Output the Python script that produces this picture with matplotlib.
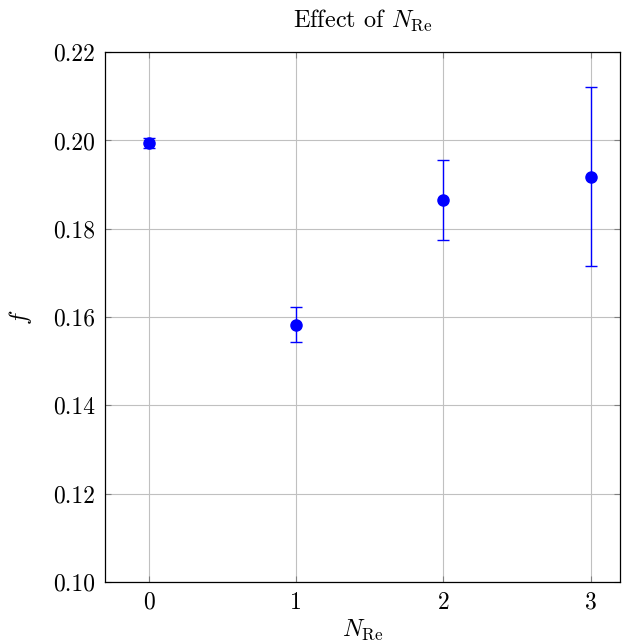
import matplotlib
matplotlib.use("Agg")
import matplotlib.pyplot as plt

plt.rcParams["font.family"] = "serif"
plt.rcParams["font.serif"] = ["cmr10"]
plt.rcParams["mathtext.fontset"] = "cm"
plt.rcParams["axes.formatter.use_mathtext"] = True

# data
n_re = [0, 1, 2, 3]
f_mean = [0.1994, 0.1583, 0.1865, 0.1918]
f_err = [0.0012, 0.0040, 0.0090, 0.0203]
x_ticks = [0, 1, 2, 3]
y_ticks = [0.10, 0.12, 0.14, 0.16, 0.18, 0.20, 0.22]

fig = plt.figure(figsize=(6.38, 6.44), dpi=100)
ax = fig.add_axes([0.1646, 0.0963, 0.8072, 0.8227])

ax.errorbar(n_re, f_mean, yerr=f_err, fmt="o", color="blue", ecolor="blue",
            markersize=8, elinewidth=1.0, capsize=4, capthick=1.0, zorder=3)

ax.set_xlim(-0.3, 3.2)
ax.set_ylim(0.10, 0.22)
ax.set_xticks(x_ticks)
ax.set_xticklabels([str(v) for v in x_ticks])
ax.set_yticks(y_ticks)
ax.set_yticklabels([f"{v:.2f}" for v in y_ticks])

ax.grid(True, color="#c0c0c0", linewidth=0.8)
ax.set_axisbelow(True)
ax.tick_params(direction="in", length=4, width=0.8, color="#808080",
               labelsize=17, top=True, right=True, labelcolor="black", pad=7)
for s in ax.spines.values():
    s.set_linewidth(0.9)

ax.set_title(r"Effect of $N_{\mathrm{Re}}$", fontsize=17.5, pad=18)
ax.set_xlabel(r"$N_{\mathrm{Re}}$", fontsize=17.5, labelpad=3)
ax.set_ylabel(r"$f$", fontsize=17.5, labelpad=14)

fig.savefig("out.png", dpi=100)
